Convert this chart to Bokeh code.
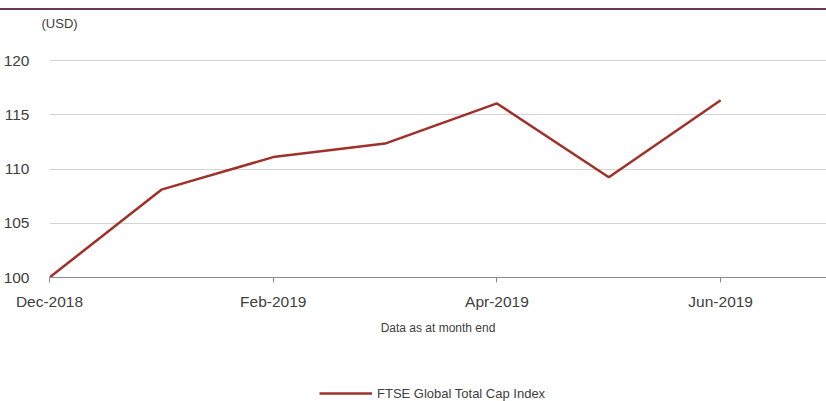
from bokeh.plotting import figure
from bokeh.models import Range1d, FixedTicker, Legend, LegendItem, Title
from bokeh.layouts import column
from bokeh.embed import file_html
from bokeh.resources import INLINE

months = ["Dec-2018", "Jan-2019", "Feb-2019", "Mar-2019", "Apr-2019", "May-2019", "Jun-2019"]
index_values = [100.0, 108.1, 111.1, 112.35, 116.05, 109.25, 116.35]
y_ticks = [100, 105, 110, 115, 120]
x_tick_positions = [0, 2, 4, 6]
series_name = "FTSE Global Total Cap Index"

FONT = "Liberation Sans"
TXT = "#404040"
LINE = "#a0302a"

x = list(range(len(months)))

p = figure(width=826, height=345, output_backend="svg", toolbar_location=None,
           x_range=Range1d(0, 6.946), y_range=Range1d(100, 120.1),
           min_border_left=48, min_border_right=0, min_border_top=59, min_border_bottom=68)
p.styles = {"background": "linear-gradient(to bottom, #ffffff 0px, #ffffff 8px, #6b3b52 8px, #6b3b52 10px, #ffffff 10px)"}
p.outline_line_color = None
p.background_fill_color = "white"
p.border_fill_color = None

# spacer between frame and the "(USD)" title (nearest the frame)
p.add_layout(Title(text=" ", text_font_size="12px", standoff=8), "above")

p.title.text = "(USD)"
p.title.align = "left"
p.title.offset = -8
p.title.standoff = 10
p.title.text_font = FONT
p.title.text_font_size = "13px"
p.title.text_font_style = "normal"
p.title.text_color = TXT

r = p.line(x, index_values, line_color=LINE, line_width=2.5)

# x axis
xa = p.xaxis[0]
xa.ticker = FixedTicker(ticks=x_tick_positions)
xa.major_label_overrides = {i: months[i] for i in x_tick_positions}
xa.axis_line_color = "#8c8c8c"
xa.major_tick_line_color = "#8c8c8c"
xa.major_tick_out = 5
xa.major_tick_in = 0
xa.minor_tick_line_color = None
xa.major_label_text_font = FONT
xa.major_label_text_font_size = "15.5px"
xa.major_label_text_color = TXT
xa.major_label_standoff = 10
xa.axis_label = "Data as at month end"
xa.axis_label_text_font = FONT
xa.axis_label_text_font_size = "12px"
xa.axis_label_text_font_style = "normal"
xa.axis_label_text_color = TXT
xa.axis_label_standoff = 8

# y axis
ya = p.yaxis[0]
ya.ticker = FixedTicker(ticks=y_ticks)
ya.axis_line_color = None
ya.major_tick_line_color = None
ya.minor_tick_line_color = None
ya.major_label_text_font = FONT
ya.major_label_text_font_size = "15.5px"
ya.major_label_text_color = TXT
ya.major_label_standoff = 14

p.xgrid.grid_line_color = None
p.ygrid.ticker = FixedTicker(ticks=y_ticks)
p.ygrid.grid_line_color = "#d4d4d4"

# legend strip below the chart
lg = figure(width=826, height=56, output_backend="svg", toolbar_location=None,
            x_range=Range1d(100, 101), y_range=Range1d(0, 1),
            min_border_left=0, min_border_right=0, min_border_top=0, min_border_bottom=0)
lg.outline_line_color = None
lg.border_fill_color = None
lg.background_fill_color = None
lg.axis.visible = False
lg.grid.visible = False
r2 = lg.line(x, index_values, line_color=LINE, line_width=2.5)

legend = Legend(items=[LegendItem(label=series_name, renderers=[r2])],
                location=(270, 0), orientation="horizontal",
                glyph_width=53, glyph_height=16, label_height=16, label_standoff=5,
                padding=0, margin=0,
                border_line_color=None, background_fill_alpha=0,
                label_text_font=FONT, label_text_font_size="13px", label_text_color=TXT)
lg.add_layout(legend, "center")

open("out.html", "w").write(file_html(column(p, lg, spacing=0), INLINE))
